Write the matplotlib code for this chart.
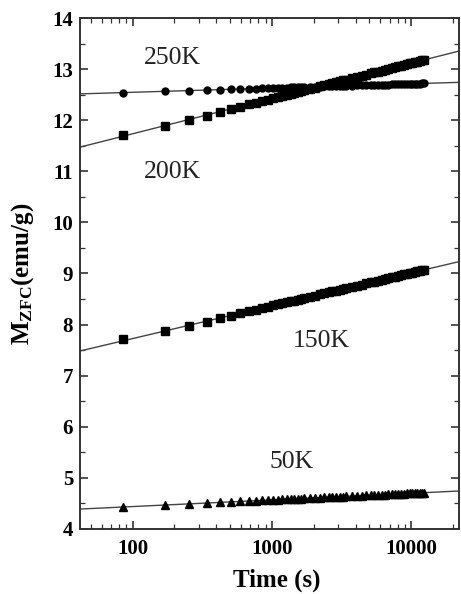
import numpy as np
import matplotlib
matplotlib.use("Agg")
import matplotlib.pyplot as plt
from matplotlib.ticker import LogLocator, NullFormatter, MultipleLocator, FixedLocator, FixedFormatter

plt.rcParams['font.family'] = ['Liberation Serif', 'DejaVu Serif']
plt.rcParams['mathtext.fontset'] = 'custom'
plt.rcParams['mathtext.rm'] = 'Liberation Serif'
plt.rcParams['mathtext.bf'] = 'Liberation Serif:bold'
plt.rcParams['mathtext.it'] = 'Liberation Serif:italic'

# measurement times (s)
time_s = [85, 170, 255, 340, 425, 510, 595, 680, 765, 850, 935, 1020, 1105, 1190,
          1275, 1360, 1445, 1530, 1615, 1700,
          1870, 2040, 2210, 2380, 2550, 2720, 2890, 3060, 3230, 3400,
          3740, 4080, 4420, 4760, 5100, 5440, 5780, 6120, 6460, 6800,
          7225, 7650, 8075, 8500, 8925, 9350, 9775, 10200, 10625, 11050,
          11475, 11900, 12325]

m_250K = [12.540, 12.565, 12.580, 12.590, 12.598, 12.605, 12.611, 12.615, 12.620, 12.623,
          12.627, 12.630, 12.633, 12.636, 12.638, 12.640, 12.643, 12.645, 12.647, 12.648,
          12.652, 12.655, 12.658, 12.661, 12.663, 12.665, 12.668, 12.670, 12.672, 12.673,
          12.677, 12.680, 12.683, 12.686, 12.688, 12.690, 12.693, 12.695, 12.697, 12.698,
          12.701, 12.703, 12.705, 12.706, 12.708, 12.710, 12.711, 12.713, 12.714, 12.716,
          12.717, 12.719, 12.720]

m_200K = [11.71, 11.89, 12.01, 12.08, 12.17, 12.22, 12.268, 12.309, 12.344, 12.375,
          12.404, 12.430, 12.454, 12.477, 12.498, 12.517, 12.535, 12.552, 12.568, 12.584,
          12.613, 12.639, 12.663, 12.686, 12.706, 12.726, 12.744, 12.761, 12.777, 12.792,
          12.821, 12.848, 12.871, 12.894, 12.915, 12.934, 12.952, 12.970, 12.986, 13.002,
          13.020, 13.037, 13.053, 13.068, 13.083, 13.097, 13.110, 13.123, 13.135, 13.147,
          13.159, 13.170, 13.180]

m_150K = [7.72, 7.87, 7.98, 8.05, 8.12, 8.17, 8.223, 8.260, 8.293, 8.322,
          8.349, 8.374, 8.396, 8.417, 8.437, 8.455, 8.471, 8.487, 8.502, 8.517,
          8.544, 8.568, 8.590, 8.611, 8.631, 8.649, 8.666, 8.682, 8.696, 8.711,
          8.738, 8.762, 8.784, 8.805, 8.825, 8.843, 8.860, 8.876, 8.891, 8.905,
          8.922, 8.938, 8.953, 8.967, 8.982, 8.994, 9.007, 9.019, 9.030, 9.041,
          9.052, 9.062, 9.072]

m_50K = [4.430, 4.469, 4.492, 4.508, 4.521, 4.531, 4.540, 4.547, 4.554, 4.560,
         4.565, 4.570, 4.575, 4.579, 4.583, 4.586, 4.590, 4.593, 4.596, 4.599,
         4.604, 4.609, 4.614, 4.618, 4.622, 4.626, 4.629, 4.632, 4.635, 4.638,
         4.644, 4.648, 4.653, 4.657, 4.661, 4.665, 4.668, 4.671, 4.674, 4.677,
         4.681, 4.684, 4.687, 4.690, 4.693, 4.695, 4.698, 4.700, 4.702, 4.705,
         4.707, 4.709, 4.711]

temps = ["250K", "200K", "150K", "50K"]
x_ticks = [100, 1000, 10000]
x_tick_labels = ["100", "1000", "10000"]

series = [
    (m_250K, "o", 5.0),
    (m_200K, "s", 5.6),
    (m_150K, "s", 5.6),
    (m_50K, "^", 6.4),
]
label_pos = [(193, 13.22), (193, 10.99), (2240, 7.68), (1390, 5.31)]

fig = plt.figure(figsize=(4.61, 5.94), dpi=100)
ax = fig.add_axes([80 / 461, 1 - 529 / 594, 379 / 461, 511 / 594])
ax.set_xscale("log")
x_lo, x_hi = 42, 22000
ax.set_xlim(x_lo, x_hi)
ax.set_ylim(4, 14)

t = np.array(time_s, dtype=float)
x_fit = np.logspace(np.log10(x_lo), np.log10(x_hi), 200)
for (vals, mk, ms), name, (lx, ly) in zip(series, temps, label_pos):
    v = np.array(vals)
    slope, icpt = np.polyfit(np.log10(t), v, 1)
    ax.plot(x_fit, icpt + slope * np.log10(x_fit), color="#444444", lw=1.0, zorder=2)
    ax.plot(t, v, linestyle="none", marker=mk, ms=ms, color="black", mec="black", zorder=3)
    ax.text(lx, ly, name, fontsize=18.5, ha="center", va="center", color="#222222")

ax.xaxis.set_major_locator(FixedLocator(x_ticks))
ax.xaxis.set_major_formatter(FixedFormatter(x_tick_labels))
ax.xaxis.set_minor_locator(LogLocator(base=10, subs=np.arange(2, 10)))
ax.xaxis.set_minor_formatter(NullFormatter())
ax.yaxis.set_major_locator(MultipleLocator(1))
ax.yaxis.set_minor_locator(MultipleLocator(0.5))

ax.tick_params(which="both", direction="in", top=True, right=True, color="#333333")
ax.tick_params(which="major", length=6, width=1.2, labelsize=15)
ax.tick_params(axis="x", which="major", pad=7)
ax.tick_params(axis="y", which="major", pad=5)
ax.tick_params(which="minor", length=3.5, width=0.9)
for lbl in ax.get_xticklabels() + ax.get_yticklabels():
    lbl.set_fontweight("bold")
for sp in ax.spines.values():
    sp.set_linewidth(1.4)
    sp.set_color("#333333")

ax.set_xlabel("Time (s)", fontsize=18, fontweight="bold")
ax.set_ylabel(r"$\mathbf{M_{ZFC}}$(emu/g)", fontsize=18, fontweight="bold")
ax.xaxis.set_label_coords(0.52, -0.078)
ax.yaxis.set_label_coords(-0.115, 0.5)

fig.savefig("out.png", dpi=100)
